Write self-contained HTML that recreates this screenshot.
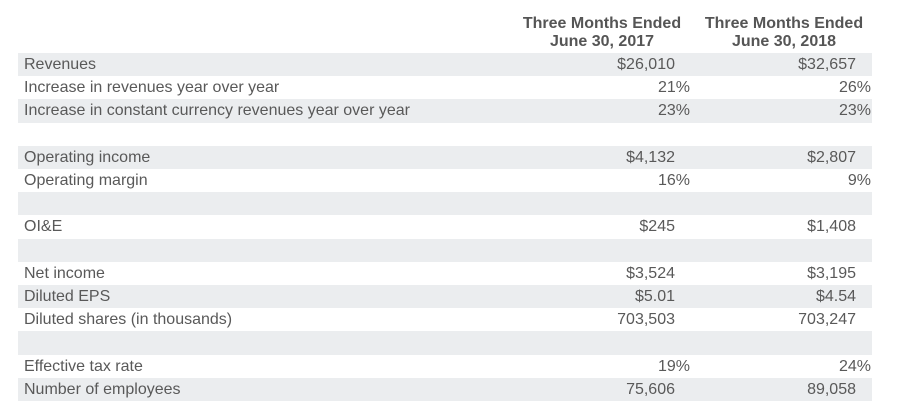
<!DOCTYPE html>
<html><head><meta charset="utf-8"><style>
body{margin:0;width:898px;height:420px;background:#fff;font-family:"Liberation Sans",Arial,sans-serif;color:#595959;position:relative;overflow:hidden}
.h{position:absolute;font-weight:bold;font-size:16px;text-align:center;width:180px;line-height:18px;color:#555}
.row{position:absolute;left:18px;width:854px;height:23.2px;font-size:16px;line-height:23px}
.g{background:#ebedef}
.l{position:absolute;left:6px}
.v1{position:absolute;right:197px}
.v2{position:absolute;right:16px}
.p1{right:182px}.p2{right:1px}
</style></head><body>
<div class="h" style="left:512px;top:15px">Three Months Ended<br>June 30, 2017</div>
<div class="h" style="left:694px;top:15px">Three Months Ended<br>June 30, 2018</div>
<div id="t"></div>
<script>
const labels=["Revenues","Increase in revenues year over year","Increase in constant currency revenues year over year","","Operating income","Operating margin","","OI&E","","Net income","Diluted EPS","Diluted shares (in thousands)","","Effective tax rate","Number of employees"];
const col2017=["$26,010","21%","23%","","$4,132","16%","","$245","","$3,524","$5.01","703,503","","19%","75,606"];
const col2018=["$32,657","26%","23%","","$2,807","9%","","$1,408","","$3,195","$4.54","703,247","","24%","89,058"];
const t=document.getElementById('t');
labels.forEach((lab,i)=>{
 const r=document.createElement('div');
 
 
 r.className='row'+(i%2===0?' g':'');
 r.style.top=(53+i*23.2)+'px';
 const pct=s=>s.endsWith('%');
 r.innerHTML='<span class="l">'+lab.replace('&','&amp;')+'</span>'+
  '<span class="v1'+(pct(col2017[i])?' p1':'')+'">'+col2017[i]+'</span>'+
  '<span class="v2'+(pct(col2018[i])?' p2':'')+'">'+col2018[i]+'</span>';
 r.querySelectorAll('span').forEach(s=>{
  
  
 });
 t.appendChild(r);
});
</script>
</body></html>
